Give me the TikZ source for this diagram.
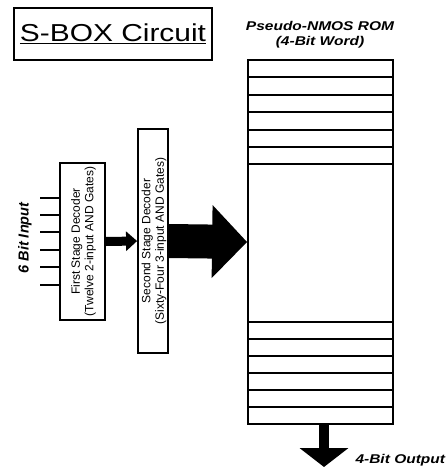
\documentclass[tikz,border=0pt]{standalone}
\usepackage{fontspec}
\setmainfont{Liberation Sans}
\newfontfamily\widesans{Liberation Sans}[FakeStretch=1.22]
\usetikzlibrary{arrows.meta}

\begin{document}
\begin{tikzpicture}[x=1pt, y=-1pt,
    box/.style={draw, line width=1.8pt, inner sep=0pt},
    declabel/.style={rotate=90, align=center, font=\fontsize{12}{13.5}\selectfont},
    tag/.style={font=\widesans\bfseries\itshape\fontsize{12.7}{15}\selectfont}]
  \useasboundingbox (0,0) rectangle (448,475);

  % title
  \node[box, line width=1.3pt, minimum width=198pt, minimum height=52pt,
        font=\widesans\fontsize{24.5}{28}\selectfont] (title) at (113,34) {\underline{S-BOX Circuit}};

  % rom with its word lines
  \node[tag, align=center] (romlabel) at (320,35) {Pseudo-NMOS ROM\\(4-Bit Word)};
  \node[box, minimum width=145pt, minimum height=364pt] (rom) at (320.5,242) {};
  \foreach \k in {1,...,6} {
    \pgfmathsetmacro{\ytop}{60+17.4*\k}
    \pgfmathsetmacro{\ybot}{424-17*\k}
    \draw[line width=2pt] (rom.west |- 0,\ytop) -- (rom.east |- 0,\ytop);
    \draw[line width=2pt] (rom.west |- 0,\ybot) -- (rom.east |- 0,\ybot);
  }

  % decoders
  \node[box, minimum width=45pt, minimum height=157pt] (first) at (82.5,241.5) {};
  \node[declabel] (firsttext) at ([xshift=1pt]first) {First Stage Decoder\\(Twelve 2-input AND Gates)};
  \node[box, minimum width=30pt, minimum height=224pt] (second) at (153,241) {};
  \node[declabel] (secondtext) at ([xshift=1pt]second) {Second Stage Decoder\\(Sixty-Four 3-input AND Gates)};

  % inputs
  \foreach \y [count=\i] in {198,215,232,250,267,285} {
    \coordinate (in\i) at (40,\y);
    \draw[line width=1.8pt] (in\i) -- (in\i -| first.west);
  }
  \node[rotate=90, font=\bfseries\itshape\fontsize{14.5}{16}\selectfont] (inlabel) at (25,238) {6 Bit Input};

  % arrows
  \draw[line width=9pt, -{Triangle[width=19pt,length=11pt]}] (first.east) -- (second.west);
  \draw[line width=34pt, -{Triangle[width=71pt,length=35pt]}] (second.east) -- (rom.west);
  \coordinate (out) at (324,467);
  \draw[line width=10pt, -{Triangle[width=48pt,length=19pt]}] (rom.south -| out) -- (out);
  \node[tag, anchor=west] (outlabel) at (352,460) {4-Bit Output};
\end{tikzpicture}
\end{document}
